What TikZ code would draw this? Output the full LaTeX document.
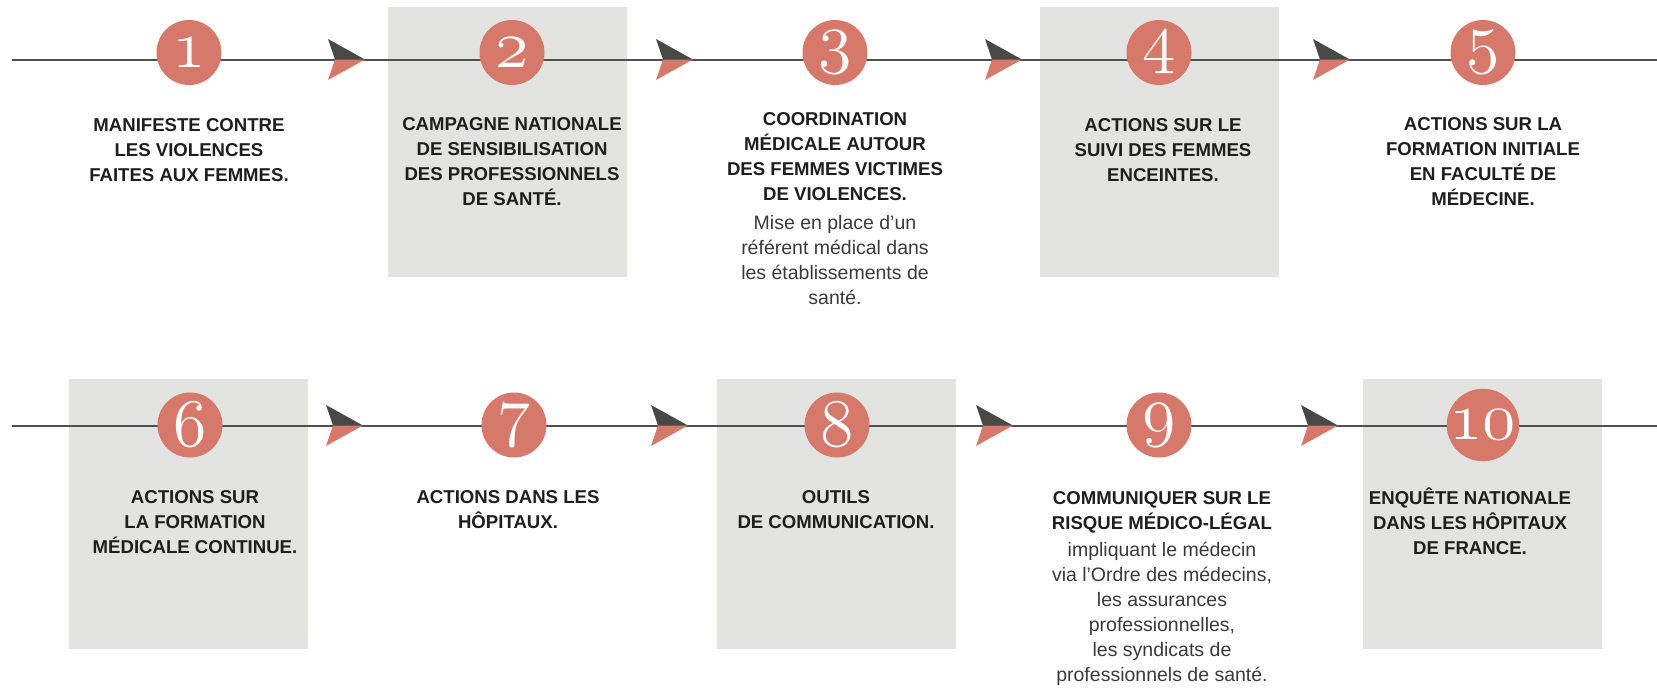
\RequirePackage{fix-cm}
\documentclass[tikz,border=0pt]{standalone}
\usepackage{fontspec}
\setmainfont{Liberation Sans}
\usetikzlibrary{positioning}
\definecolor{salmon}{RGB}{214,121,107}
\definecolor{arrowgray}{RGB}{72,72,69}
\definecolor{linegray}{RGB}{80,80,80}
\definecolor{boxgray}{RGB}{227,227,226}
\definecolor{titlegray}{RGB}{30,30,30}
\definecolor{descgray}{RGB}{58,58,58}
\tikzstyle{numcircle}=[circle,fill=salmon,minimum size=65pt,inner sep=0pt,text=white,font={\fontsize{68}{68}\usefont{OML}{cmm}{m}{it}}]
\tikzstyle{stepbox}=[rectangle,fill=boxgray,minimum width=239pt,minimum height=270pt,inner sep=0pt]
\tikzstyle{timeline}=[draw=linegray,line width=2pt]
\tikzstyle{steptitle}=[anchor=north,align=center,inner sep=0pt,text=titlegray,font={\bfseries\fontsize{18.6}{25}\selectfont}]
\tikzstyle{stepdesc}=[align=center,inner sep=0pt,text=descgray,font={\fontsize{19.5}{25}\selectfont}]

\begin{document}
\begin{tikzpicture}[x=1pt,y=-1pt]
\useasboundingbox (0,0) rectangle (1657,689);

% grey boxes behind the even steps
  \foreach \pos/\name in {{(507.5,142)/b2}, {(1159,142)/b4}, {(188.5,514)/b6}, {(836,514)/b8}, {(1482.5,514)/b10}}
        \node[stepbox] (\name) at \pos {};

% the two time lines
    \coordinate (s1) at (12,59.5);
    \coordinate (e1) at (1657,59.5);
    \coordinate (s2) at (12,425.5);
    \coordinate (e2) at (1657,425.5);
    \path[timeline] (s1) -- (e1);
    \path[timeline] (s2) -- (e2);

% two-tone arrow tips on the lines
  \foreach \name/\x/\y in {a1/365/59.5, a2/693/59.5, a3/1022/59.5, a4/1350/59.5, a5/363/425.5, a6/688/425.5, a7/1013/425.5, a8/1338/425.5}
  {
    \coordinate (\name) at (\x,\y);
    \fill[arrowgray] (\name) -- ++(-37,-20.5) -- ++(7,20.5) -- cycle;
    \fill[salmon] (\name) -- ++(-30,0) -- ++(-7,20.5) -- cycle;
  }

% numbered circles
  \foreach \pos/\name/\num in {{(189,52.5)/c1/1}, {(512,52.5)/c2/2}, {(835,52.5)/c3/3}, {(1159,52.5)/c4/4}, {(1483,52.5)/c5/5}, {(190,425)/c6/6}, {(514,425)/c7/7}, {(837,425)/c8/8}, {(1159,425)/c9/9}, {(1483,425)/c10/10}}
        \node[numcircle] (\name) at \pos {\num};

% step titles
  \foreach \pos/\name/\txt in {{(189,118.5)/t1/{MANIFESTE CONTRE\\LES VIOLENCES\\FAITES AUX FEMMES.}},
                               {(512,117.5)/t2/{CAMPAGNE NATIONALE\\DE SENSIBILISATION\\DES PROFESSIONNELS\\DE SANTÉ.}},
                               {(835,112)/t3/{COORDINATION\\MÉDICALE AUTOUR\\DES FEMMES VICTIMES\\DE VIOLENCES.}},
                               {(1163,118.5)/t4/{ACTIONS SUR LE\\SUIVI DES FEMMES\\ENCEINTES.}},
                               {(1483,117.5)/t5/{ACTIONS SUR LA\\FORMATION INITIALE\\EN FACULTÉ DE\\MÉDECINE.}},
                               {(195,490.5)/t6/{ACTIONS SUR\\LA FORMATION\\MÉDICALE CONTINUE.}},
                               {(508,490.5)/t7/{ACTIONS DANS LES\\HÔPITAUX.}},
                               {(836,490.5)/t8/{OUTILS\\DE COMMUNICATION.}},
                               {(1162,491.5)/t9/{COMMUNIQUER SUR LE\\RISQUE MÉDICO-LÉGAL}},
                               {(1470,487.5)/t10/{ENQUÊTE NATIONALE\\DANS LES HÔPITAUX\\DE FRANCE.}}}
        \node[steptitle] (\name) at \pos {\txt};

% plain text under steps 3 and 9
    \node[stepdesc, below=15pt of t3] (d3) {Mise en place d’un\\référent médical dans\\les établissements de\\santé.};
    \node[stepdesc, below=8pt of t9] (d9) {impliquant le médecin\\via l’Ordre des médecins,\\les assurances\\professionnelles,\\les syndicats de\\professionnels de santé.};

\end{tikzpicture}
\end{document}
